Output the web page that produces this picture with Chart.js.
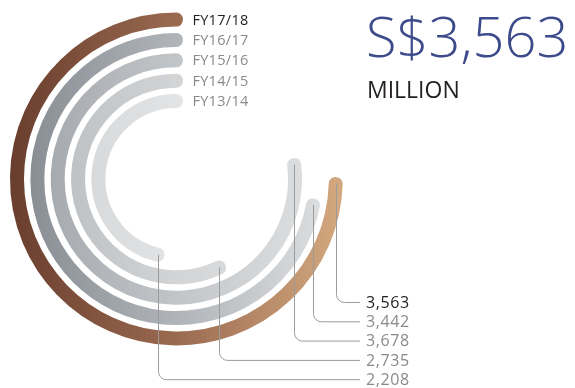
<!DOCTYPE html>
<html>
<head>
<meta charset="utf-8">
<script src="https://cdn.jsdelivr.net/npm/chart.js@4.4.1/dist/chart.umd.min.js"></script>
<style>
  body { margin: 0; background: #fff; }
</style>
</head>
<body>
<canvas id="rings" width="575" height="388"></canvas>
<script>
// revenue by financial year, outer ring first
var years = ['FY17/18', 'FY16/17', 'FY15/16', 'FY14/15', 'FY13/14'];
var revenue = [3563, 3442, 3678, 2735, 2208];
var valueLabels = ['3,563', '3,442', '3,678', '2,735', '2,208'];
var fullTurn = 4780;   // value that would close a full circle
var headline = 'S$3,563';
var headlineUnit = 'MILLION';

// left / middle / right colours of each ring
var ringColors = [
  ['#6a3e2e', '#9a6a50', '#d4a97f'],
  ['#848a91', '#b0b4b8', '#e2e3e4'],
  ['#9ea3a8', '#c2c5c8', '#e4e5e6'],
  ['#b4b8bb', '#d2d4d6', '#e6e7e8'],
  ['#cdd0d2', '#e2e3e4', '#ececed']
];

function ringFill(ring) {
  return function (ctx) {
    if (ctx.dataIndex === 0) return 'rgba(0,0,0,0)';
    var area = ctx.chart.chartArea;
    if (!area) return ringColors[ring][0];
    var g = ctx.chart.ctx.createLinearGradient(area.left, 0, area.right, 0);
    g.addColorStop(0, ringColors[ring][0]);
    g.addColorStop(0.5, ringColors[ring][1]);
    g.addColorStop(1, ringColors[ring][2]);
    return g;
  };
}

var datasets = [];
revenue.forEach(function (v, i) {
  if (i > 0) {
    // empty ring between two years
    datasets.push({ data: [1], backgroundColor: 'rgba(0,0,0,0)', borderWidth: 0, weight: 1 });
  }
  datasets.push({
    label: years[i],
    data: [fullTurn - v, v],
    backgroundColor: ringFill(i),
    borderColor: ringFill(i),
    borderWidth: function (ctx) { return ctx.dataIndex === 0 ? 0 : 13; },
    borderJoinStyle: 'round',
    borderAlign: 'center',
    weight: 0.0517
  });
});

var labelsPlugin = {
  id: 'ringLabels',
  afterDraw: function (chart) {
    var c = chart.ctx;
    c.save();
    for (var i = 0; i < revenue.length; i++) {
      var arc = chart.getDatasetMeta(i * 2).data[1];
      var p = arc.getProps(['x', 'y', 'startAngle', 'innerRadius', 'outerRadius']);
      var r = (p.innerRadius + p.outerRadius) / 2;
      var ex = Math.round(p.x + r * Math.cos(p.startAngle)) + 0.5;
      var ey = p.y + r * Math.sin(p.startAngle);
      var ly = 302 + i * 19.3;

      // leader from the end of the ring down to its value
      c.beginPath();
      c.strokeStyle = '#9b9b9b';
      c.lineWidth = 1;
      c.moveTo(ex, ey);
      c.lineTo(ex, ly - 8);
      c.arcTo(ex, ly + 0.5, ex + 8, ly + 0.5, 8);
      c.lineTo(360, ly + 0.5);
      c.stroke();

      c.fillStyle = i === 0 ? '#231f20' : '#8a8a8a';
      c.textBaseline = 'alphabetic';
      c.letterSpacing = '0.6px';
      c.font = '16px "Open Sans"';
      c.fillText(valueLabels[i], 366, ly + 5.7);

      c.letterSpacing = '0.3px';
      c.font = '14.5px "Open Sans"';
      c.fillText(years[i], p.x + 16, p.y - r + 5.2);
    }

    c.letterSpacing = '0px';
    c.fillStyle = '#3e4b8b';
    c.font = '300 56px "Open Sans"';
    c.fillText(headline, 366, 57);
    c.fillStyle = '#231f20';
    c.font = '23px "Open Sans"';
    c.fillText(headlineUnit, 367, 98);
    c.restore();
  }
};

new Chart(document.getElementById('rings'), {
  type: 'doughnut',
  data: { datasets: datasets },
  options: {
    responsive: false,
    animation: false,
    events: [],
    rotation: 0,
    cutout: '48.47%',
    layout: { padding: { left: 10, top: 12.6, right: 232.2, bottom: 42.6 } },
    plugins: { legend: { display: false }, tooltip: { enabled: false } }
  },
  plugins: [labelsPlugin]
});
</script>
</body>
</html>
